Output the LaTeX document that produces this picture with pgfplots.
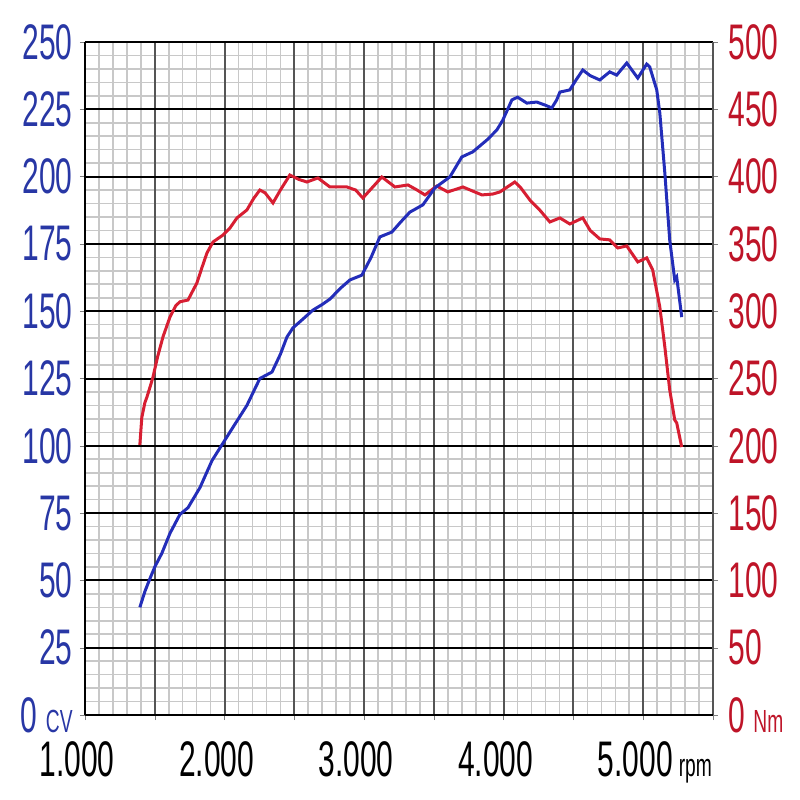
\documentclass[border=0pt]{standalone}
\usepackage{fontspec}
\setmainfont{Liberation Sans}[FakeStretch=0.6]
\usepackage{pgfplots}
\usepackage{pgfplotstable}
\pgfplotsset{compat=1.18}
\definecolor{cvblue}{RGB}{35,45,185}
\definecolor{cvlabel}{RGB}{40,55,165}
\definecolor{nmred}{RGB}{215,30,50}
\definecolor{nmlabel}{RGB}{190,20,40}
\definecolor{minorgrid}{RGB}{200,200,200}
\definecolor{majorxgrid}{RGB}{85,85,85}
\newcommand{\ticksize}{\fontsize{25}{25}\selectfont}
\newcommand{\unitsize}{\fontsize{16}{16}\selectfont}

% power, CV
\pgfplotstableread{
rpm cv
1393 40
1430 46
1464 50.5
1500 55
1550 60
1609 67.5
1680 74.5
1738 77
1824 84.5
1910 94.5
1989 101
2074 108
2160 115
2253 125
2340 127.4
2400 134
2447 140.4
2490 143.8
2560 147
2633 150.4
2700 152.5
2755 154.5
2830 158.5
2898 161.6
2984 163.4
3050 170
3113 177.6
3199 179.4
3260 183
3328 186.8
3421 189.5
3507 195.8
3615 199.9
3700 207.3
3779 209.2
3880 213.6
3951 217.3
3994 221
4059 228.5
4100 229.5
4166 227.3
4237 227.7
4300 226.5
4345 225.5
4380 228.5
4403 231.4
4474 232.2
4520 236
4567 239.6
4620 237.5
4689 235.9
4760 238.9
4810 237.7
4882 242.2
4961 236.6
5025 241.8
5047 240.7
5097 232.2
5119 223.6
5155 201.3
5190 176.4
5226 161.6
5240 162.7
5276 147.8
}\power

% torque, Nm
\pgfplotstableread{
rpm nm
1393 200.6
1407 221
1429 232
1444 236.3
1470 245
1487 251
1520 266
1559 281
1609 295.7
1650 304
1680 307
1738 308.3
1802 321
1840 333
1874 343.3
1917 351.4
1989 356.6
2040 362
2089 369.3
2160 375.2
2210 384
2253 390
2290 388
2347 380.4
2400 390
2468 401.2
2530 398
2590 396
2669 399
2720 395
2755 392.3
2877 392.3
2940 390
2991 384.1
3060 392
3127 399.7
3221 392.3
3314 393.8
3380 390
3436 386.4
3521 393
3600 388.6
3708 392.3
3844 386.4
3920 387
3973 388.6
4080 396
4120 392
4188 382.6
4260 375
4331 366.3
4403 369.3
4474 364.8
4567 369.3
4620 360
4689 353.7
4760 353
4818 347
4882 348.5
4961 336.6
5025 339.6
5068 330.6
5119 303.1
5155 273.4
5190 241.5
5226 219.2
5240 217
5276 199.1
}\torque

\pgfplotsset{
  dyno/.style={
    at={(0,0)}, anchor=south west,
    scale only axis, width=314pt, height=336.5pt,
    xmin=1000, xmax=5500,
    xtick={1000,1500,...,5500},
    tick label style={font=\ticksize, inner sep=0pt},
    tick align=outside,
    major tick length=2.5pt, minor tick length=0pt,
  },
  gridonly/.style={dyno,
    ymin=0, ymax=250, ytick={0,25,...,250},
    axis line style={draw=none},
    xticklabels={}, yticklabels={},
    major tick length=0pt,
  }
}

\begin{document}
\begin{tikzpicture}
\useasboundingbox (-42.5pt,-42.5pt) rectangle (357.5pt,357.5pt);

% light grid
\begin{axis}[gridonly,
  minor x tick num=4, minor y tick num=4,
  xminorgrids, yminorgrids,
  minor grid style={minorgrid, line width=0.8pt},
]
\end{axis}

% dark rpm lines
\begin{axis}[gridonly,
  xmajorgrids,
  major grid style={majorxgrid, line width=1pt},
]
\end{axis}

% torque, right axis
\begin{axis}[dyno,
  ymin=0, ymax=500, ytick={0,50,...,500},
  axis y line*=right, hide x axis,
  y axis line style={majorxgrid, line width=1pt},
  ymajorgrids, major grid style={black, line width=1pt},
  yticklabels={{0 {\unitsize Nm}},50,100,150,200,250,300,350,400,450,500},
  y tick label style={anchor=west, text=nmlabel, xshift=5pt},
]
\addplot[nmred, line width=1.5pt] table[x=rpm, y=nm] {\torque};
\end{axis}

% power, left axis
\begin{axis}[dyno,
  ymin=0, ymax=250, ytick={0,25,...,250},
  axis x line*=bottom, axis y line*=left,
  axis line style={black, line width=1pt, -},
  xticklabels={1.000,,2.000,,3.000,,4.000,,{5.000\rlap{\hspace{3pt}\unitsize rpm}},},
  x tick label style={anchor=north, yshift=-10.5pt, xshift=-4pt},
  yticklabels={{0 {\unitsize CV}},25,50,75,100,125,150,175,200,225,250},
  y tick label style={anchor=east, text=cvlabel, xshift=-3.5pt},
]
\addplot[cvblue, line width=1.5pt] table[x=rpm, y=cv] {\power};
\end{axis}
\end{tikzpicture}
\end{document}
